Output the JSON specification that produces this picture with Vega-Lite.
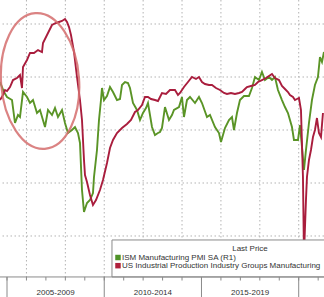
{
  "$schema": "https://vega.github.io/schema/vega-lite/v6.json",
  "width": 324,
  "height": 297,
  "padding": 0,
  "autosize": {"type": "none"},
  "background": "white",
  "config": {"view": {"stroke": null}, "font": "Liberation Sans"},
  "datasets": {
    "green": [
      {"t": 2004.640, "v": 58.79}, {"t": 2004.846, "v": 56.82}, {"t": 2005.000, "v": 55.83}, {"t": 2005.257, "v": 55.23},
      {"t": 2005.411, "v": 50.69}, {"t": 2005.565, "v": 52.27}, {"t": 2005.668, "v": 51.87}, {"t": 2005.823, "v": 56.82},
      {"t": 2006.028, "v": 55.83}, {"t": 2006.182, "v": 54.64}, {"t": 2006.337, "v": 55.23}, {"t": 2006.542, "v": 52.67},
      {"t": 2006.697, "v": 53.26}, {"t": 2006.954, "v": 49.90}, {"t": 2007.108, "v": 53.26}, {"t": 2007.314, "v": 52.27},
      {"t": 2007.468, "v": 53.65}, {"t": 2007.622, "v": 51.87}, {"t": 2007.828, "v": 53.26}, {"t": 2007.982, "v": 50.69},
      {"t": 2008.136, "v": 48.71}, {"t": 2008.342, "v": 49.31}, {"t": 2008.496, "v": 49.90}, {"t": 2008.650, "v": 48.71},
      {"t": 2008.753, "v": 46.74}, {"t": 2008.856, "v": 37.45}, {"t": 2008.959, "v": 33.10}, {"t": 2009.113, "v": 34.88},
      {"t": 2009.267, "v": 35.47}, {"t": 2009.421, "v": 36.85}, {"t": 2009.473, "v": 40.02}, {"t": 2009.627, "v": 45.35},
      {"t": 2009.730, "v": 51.28}, {"t": 2009.833, "v": 55.23}, {"t": 2009.884, "v": 57.61}, {"t": 2009.987, "v": 55.23},
      {"t": 2010.141, "v": 56.02}, {"t": 2010.296, "v": 57.80}, {"t": 2010.450, "v": 56.82}, {"t": 2010.655, "v": 55.23},
      {"t": 2010.810, "v": 55.43}, {"t": 2010.913, "v": 58.20}, {"t": 2011.067, "v": 58.79}, {"t": 2011.221, "v": 58.59},
      {"t": 2011.324, "v": 57.61}, {"t": 2011.478, "v": 54.64}, {"t": 2011.684, "v": 53.26}, {"t": 2011.838, "v": 51.28},
      {"t": 2011.992, "v": 52.67}, {"t": 2012.146, "v": 53.65}, {"t": 2012.249, "v": 54.64}, {"t": 2012.455, "v": 49.90},
      {"t": 2012.609, "v": 48.32}, {"t": 2012.763, "v": 48.71}, {"t": 2012.866, "v": 48.91}, {"t": 2012.969, "v": 49.70},
      {"t": 2013.123, "v": 53.85}, {"t": 2013.329, "v": 51.28}, {"t": 2013.483, "v": 52.27}, {"t": 2013.586, "v": 53.26},
      {"t": 2013.843, "v": 53.85}, {"t": 2013.997, "v": 55.83}, {"t": 2014.100, "v": 51.87}, {"t": 2014.254, "v": 55.23},
      {"t": 2014.409, "v": 55.83}, {"t": 2014.666, "v": 54.64}, {"t": 2014.871, "v": 55.83}, {"t": 2015.026, "v": 54.64},
      {"t": 2015.283, "v": 51.87}, {"t": 2015.437, "v": 52.27}, {"t": 2015.694, "v": 49.90}, {"t": 2015.900, "v": 48.71},
      {"t": 2016.003, "v": 46.93}, {"t": 2016.208, "v": 49.70}, {"t": 2016.414, "v": 51.28}, {"t": 2016.568, "v": 51.87},
      {"t": 2016.671, "v": 49.31}, {"t": 2016.825, "v": 52.67}, {"t": 2016.979, "v": 55.23}, {"t": 2017.185, "v": 56.02},
      {"t": 2017.442, "v": 56.02}, {"t": 2017.596, "v": 57.61}, {"t": 2017.751, "v": 59.78}, {"t": 2017.956, "v": 59.19},
      {"t": 2018.110, "v": 60.77}, {"t": 2018.265, "v": 59.19}, {"t": 2018.470, "v": 59.78}, {"t": 2018.625, "v": 59.19},
      {"t": 2018.779, "v": 59.78}, {"t": 2018.933, "v": 57.21}, {"t": 2019.139, "v": 55.23}, {"t": 2019.293, "v": 53.85},
      {"t": 2019.447, "v": 52.67}, {"t": 2019.653, "v": 49.90}, {"t": 2019.756, "v": 47.33}, {"t": 2019.962, "v": 47.33},
      {"t": 2020.064, "v": 50.29}, {"t": 2020.167, "v": 45.95}, {"t": 2020.270, "v": 41.40}, {"t": 2020.373, "v": 45.35},
      {"t": 2020.527, "v": 50.69}, {"t": 2020.681, "v": 55.23}, {"t": 2020.835, "v": 58.20}, {"t": 2020.989, "v": 59.78},
      {"t": 2021.092, "v": 63.73}, {"t": 2021.196, "v": 62.74}, {"t": 2021.298, "v": 64.72}
    ],
    "red": [
      {"t": 2004.640, "v": 95.66}, {"t": 2004.794, "v": 96.60}, {"t": 2004.897, "v": 97.55}, {"t": 2005.000, "v": 97.36},
      {"t": 2005.154, "v": 98.11}, {"t": 2005.308, "v": 99.43}, {"t": 2005.514, "v": 99.81}, {"t": 2005.668, "v": 100.38},
      {"t": 2005.771, "v": 97.92}, {"t": 2005.823, "v": 101.89}, {"t": 2006.028, "v": 103.21}, {"t": 2006.182, "v": 104.53},
      {"t": 2006.388, "v": 104.53}, {"t": 2006.594, "v": 105.09}, {"t": 2006.799, "v": 104.72}, {"t": 2006.851, "v": 106.42},
      {"t": 2007.108, "v": 108.30}, {"t": 2007.314, "v": 109.81}, {"t": 2007.519, "v": 110.19}, {"t": 2007.673, "v": 110.38},
      {"t": 2007.828, "v": 110.57}, {"t": 2007.982, "v": 110.94}, {"t": 2008.085, "v": 110.38}, {"t": 2008.188, "v": 109.43},
      {"t": 2008.290, "v": 107.92}, {"t": 2008.445, "v": 104.72}, {"t": 2008.599, "v": 100.00}, {"t": 2008.753, "v": 95.66},
      {"t": 2008.856, "v": 91.89}, {"t": 2008.959, "v": 84.34}, {"t": 2009.010, "v": 81.51}, {"t": 2009.113, "v": 80.19},
      {"t": 2009.267, "v": 77.74}, {"t": 2009.421, "v": 75.85}, {"t": 2009.576, "v": 76.79}, {"t": 2009.781, "v": 78.68},
      {"t": 2009.936, "v": 80.57}, {"t": 2010.141, "v": 83.77}, {"t": 2010.296, "v": 86.60}, {"t": 2010.450, "v": 88.11},
      {"t": 2010.655, "v": 89.43}, {"t": 2010.913, "v": 90.38}, {"t": 2011.170, "v": 91.13}, {"t": 2011.375, "v": 91.89},
      {"t": 2011.581, "v": 93.40}, {"t": 2011.735, "v": 93.77}, {"t": 2011.941, "v": 94.72}, {"t": 2012.095, "v": 96.23},
      {"t": 2012.249, "v": 96.23}, {"t": 2012.404, "v": 95.85}, {"t": 2012.609, "v": 95.66}, {"t": 2012.763, "v": 95.47},
      {"t": 2012.969, "v": 96.98}, {"t": 2013.175, "v": 96.79}, {"t": 2013.380, "v": 97.55}, {"t": 2013.637, "v": 97.55},
      {"t": 2013.792, "v": 96.60}, {"t": 2013.895, "v": 96.98}, {"t": 2014.100, "v": 98.11}, {"t": 2014.306, "v": 99.06},
      {"t": 2014.511, "v": 100.00}, {"t": 2014.717, "v": 99.62}, {"t": 2014.871, "v": 100.00}, {"t": 2015.026, "v": 99.06},
      {"t": 2015.180, "v": 98.68}, {"t": 2015.386, "v": 98.49}, {"t": 2015.540, "v": 98.49}, {"t": 2015.745, "v": 97.92},
      {"t": 2015.951, "v": 97.55}, {"t": 2016.157, "v": 96.98}, {"t": 2016.311, "v": 96.79}, {"t": 2016.517, "v": 96.98},
      {"t": 2016.722, "v": 96.79}, {"t": 2016.928, "v": 96.98}, {"t": 2017.082, "v": 97.17}, {"t": 2017.236, "v": 97.74},
      {"t": 2017.339, "v": 98.11}, {"t": 2017.545, "v": 98.30}, {"t": 2017.751, "v": 98.49}, {"t": 2017.905, "v": 99.06},
      {"t": 2018.110, "v": 99.43}, {"t": 2018.316, "v": 99.81}, {"t": 2018.470, "v": 100.19}, {"t": 2018.625, "v": 100.57},
      {"t": 2018.779, "v": 99.81}, {"t": 2018.985, "v": 99.43}, {"t": 2019.139, "v": 98.30}, {"t": 2019.293, "v": 97.74},
      {"t": 2019.447, "v": 97.17}, {"t": 2019.550, "v": 96.60}, {"t": 2019.704, "v": 96.23}, {"t": 2019.807, "v": 95.66},
      {"t": 2019.910, "v": 95.85}, {"t": 2020.013, "v": 96.04}, {"t": 2020.116, "v": 93.77}, {"t": 2020.218, "v": 81.13},
      {"t": 2020.270, "v": 66.42}, {"t": 2020.373, "v": 76.79}, {"t": 2020.424, "v": 81.13}, {"t": 2020.527, "v": 84.34},
      {"t": 2020.630, "v": 86.23}, {"t": 2020.733, "v": 88.68}, {"t": 2020.835, "v": 90.00}, {"t": 2020.938, "v": 92.26},
      {"t": 2021.041, "v": 89.43}, {"t": 2021.144, "v": 88.68}, {"t": 2021.247, "v": 93.21}
    ],
    "hgrid": [{"v": 110}, {"v": 100}, {"v": 90}, {"v": 80}, {"v": 70}],
    "vgrid": [{"t": 2006}, {"t": 2008}, {"t": 2010}, {"t": 2012}, {"t": 2014}, {"t": 2016}, {"t": 2018}, {"t": 2020}],
    "ticks": [{"t": 2005}, {"t": 2006}, {"t": 2007}, {"t": 2008}, {"t": 2009}, {"t": 2010}, {"t": 2011}, {"t": 2012}, {"t": 2013}, {"t": 2014}, {"t": 2015}, {"t": 2016}, {"t": 2017}, {"t": 2018}, {"t": 2019}, {"t": 2020}, {"t": 2021}],
    "seps": [{"t": 2005}, {"t": 2010}, {"t": 2015}, {"t": 2020}],
    "periods": [{"t": 2007.5, "label": "2005-2009"}, {"t": 2012.5, "label": "2010-2014"}, {"t": 2017.5, "label": "2015-2019"}],
    "legend": [
      {"series": "ISM", "label": "ISM Manufacturing PMI SA  (R1)"},
      {"series": "IP", "label": "US Industrial Production Industry Groups Manufacturing"}
    ],
    "annot": [{"t": 2006.70, "v": 99.25}]
  },
  "layer": [
    {
      "data": {"name": "hgrid"},
      "mark": {"type": "rule", "stroke": "#b3b3b3", "strokeWidth": 1, "strokeDash": [1.5, 2.5]},
      "encoding": {
        "y": {"field": "v", "type": "quantitative", "scale": {"domain": [58.49, 114.53], "nice": false, "zero": false}, "axis": null}
      }
    },
    {
      "data": {"name": "vgrid"},
      "mark": {"type": "rule", "stroke": "#b3b3b3", "strokeWidth": 1, "strokeDash": [1.5, 2.5]},
      "encoding": {
        "x": {"field": "t", "type": "quantitative", "scale": {"domain": [2004.64, 2021.3], "nice": false, "zero": false}, "axis": null},
        "y": {"datum": 114.53, "type": "quantitative", "scale": {"domain": [58.49, 114.53], "nice": false, "zero": false}, "axis": null},
        "y2": {"datum": 62.27}
      }
    },
    {
      "data": {"name": "green"},
      "mark": {"type": "line", "stroke": "#5a9426", "strokeWidth": 1.9, "clip": true},
      "encoding": {
        "x": {"field": "t", "type": "quantitative", "scale": {"domain": [2004.64, 2021.3], "nice": false, "zero": false}, "axis": null},
        "y": {"field": "v", "type": "quantitative", "scale": {"domain": [16.3, 75.0], "nice": false, "zero": false}, "axis": null}
      }
    },
    {
      "data": {"name": "red"},
      "mark": {"type": "line", "stroke": "#a91d3d", "strokeWidth": 1.9, "clip": true},
      "encoding": {
        "x": {"field": "t", "type": "quantitative", "scale": {"domain": [2004.64, 2021.3], "nice": false, "zero": false}, "axis": null},
        "y": {"field": "v", "type": "quantitative", "scale": {"domain": [58.49, 114.53], "nice": false, "zero": false}, "axis": null}
      }
    },
    {
      "data": {"name": "annot"},
      "mark": {
        "type": "point",
        "shape": "M0,-1C0.317,-1,0.574,-0.552,0.574,0C0.574,0.552,0.317,1,0,1C-0.317,1,-0.574,0.552,-0.574,0C-0.574,-0.552,-0.317,-1,0,-1Z",
        "size": 18496,
        "filled": false,
        "stroke": "#d56e6e",
        "strokeWidth": 2.2,
        "opacity": 0.85,
        "angle": 356
      },
      "encoding": {
        "x": {"field": "t", "type": "quantitative", "scale": {"domain": [2004.64, 2021.3], "nice": false, "zero": false}, "axis": null},
        "y": {"field": "v", "type": "quantitative", "scale": {"domain": [58.49, 114.53], "nice": false, "zero": false}, "axis": null}
      }
    },
    {
      "data": {"name": "legend"},
      "transform": [{"filter": "datum.series === 'ISM'"}],
      "mark": {"type": "rect", "fill": "white", "stroke": "#8a8a8a", "strokeWidth": 1},
      "encoding": {
        "x": {"datum": 2010.398, "type": "quantitative", "scale": {"domain": [2004.64, 2021.3], "nice": false, "zero": false}, "axis": null},
        "x2": {"datum": 2022.5},
        "y": {"datum": 69.25, "type": "quantitative", "scale": {"domain": [58.49, 114.53], "nice": false, "zero": false}, "axis": null},
        "y2": {"datum": 62.27}
      }
    },
    {
      "data": {"name": "legend"},
      "transform": [{"filter": "datum.series === 'ISM'"}],
      "mark": {"type": "text", "text": "Last Price", "fontSize": 8, "fill": "#333333", "align": "center", "baseline": "middle"},
      "encoding": {
        "x": {"datum": 2017.494, "type": "quantitative", "scale": {"domain": [2004.64, 2021.3], "nice": false, "zero": false}, "axis": null},
        "y": {"datum": 67.55, "type": "quantitative", "scale": {"domain": [58.49, 114.53], "nice": false, "zero": false}, "axis": null}
      }
    },
    {
      "data": {"name": "legend"},
      "transform": [{"filter": "datum.series === 'ISM'"}],
      "layer": [
        {
          "mark": {"type": "square", "size": 30, "filled": true, "fill": "#4f9228", "opacity": 1},
          "encoding": {
            "x": {"datum": 2010.707, "type": "quantitative", "scale": {"domain": [2004.64, 2021.3], "nice": false, "zero": false}, "axis": null},
            "y": {"datum": 65.94, "type": "quantitative", "scale": {"domain": [58.49, 114.53], "nice": false, "zero": false}, "axis": null}
          }
        },
        {
          "mark": {"type": "text", "fontSize": 8, "fill": "#333333", "align": "left", "baseline": "middle"},
          "encoding": {
            "x": {"datum": 2010.913, "type": "quantitative", "scale": {"domain": [2004.64, 2021.3], "nice": false, "zero": false}, "axis": null},
            "y": {"datum": 65.94, "type": "quantitative", "scale": {"domain": [58.49, 114.53], "nice": false, "zero": false}, "axis": null},
            "text": {"field": "label"}
          }
        }
      ]
    },
    {
      "data": {"name": "legend"},
      "transform": [{"filter": "datum.series === 'IP'"}],
      "layer": [
        {
          "mark": {"type": "square", "size": 30, "filled": true, "fill": "#b0213c", "opacity": 1},
          "encoding": {
            "x": {"datum": 2010.707, "type": "quantitative", "scale": {"domain": [2004.64, 2021.3], "nice": false, "zero": false}, "axis": null},
            "y": {"datum": 64.40, "type": "quantitative", "scale": {"domain": [58.49, 114.53], "nice": false, "zero": false}, "axis": null}
          }
        },
        {
          "mark": {"type": "text", "fontSize": 8, "fill": "#333333", "align": "left", "baseline": "middle"},
          "encoding": {
            "x": {"datum": 2010.913, "type": "quantitative", "scale": {"domain": [2004.64, 2021.3], "nice": false, "zero": false}, "axis": null},
            "y": {"datum": 64.40, "type": "quantitative", "scale": {"domain": [58.49, 114.53], "nice": false, "zero": false}, "axis": null},
            "text": {"field": "label"}
          }
        }
      ]
    },
    {
      "data": {"name": "seps"},
      "mark": {"type": "rule", "stroke": "#8a8a8a", "strokeWidth": 1},
      "encoding": {
        "y": {"datum": 62.27, "type": "quantitative", "scale": {"domain": [58.49, 114.53], "nice": false, "zero": false}, "axis": null}
      },
      "transform": [{"filter": "datum.t === 2005"}]
    },
    {
      "data": {"name": "ticks"},
      "mark": {"type": "rule", "stroke": "#8a8a8a", "strokeWidth": 1},
      "encoding": {
        "x": {"field": "t", "type": "quantitative", "scale": {"domain": [2004.64, 2021.3], "nice": false, "zero": false}, "axis": null},
        "y": {"datum": 62.27, "type": "quantitative", "scale": {"domain": [58.49, 114.53], "nice": false, "zero": false}, "axis": null},
        "y2": {"datum": 61.6}
      }
    },
    {
      "data": {"name": "seps"},
      "mark": {"type": "rule", "stroke": "#8a8a8a", "strokeWidth": 1},
      "encoding": {
        "x": {"field": "t", "type": "quantitative", "scale": {"domain": [2004.64, 2021.3], "nice": false, "zero": false}, "axis": null},
        "y": {"datum": 62.27, "type": "quantitative", "scale": {"domain": [58.49, 114.53], "nice": false, "zero": false}, "axis": null},
        "y2": {"datum": 58.3}
      }
    },
    {
      "data": {"name": "periods"},
      "mark": {"type": "text", "fontSize": 8, "fill": "#333333", "align": "center", "baseline": "middle"},
      "encoding": {
        "x": {"field": "t", "type": "quantitative", "scale": {"domain": [2004.64, 2021.3], "nice": false, "zero": false}, "axis": null},
        "y": {"datum": 59.25, "type": "quantitative", "scale": {"domain": [58.49, 114.53], "nice": false, "zero": false}, "axis": null},
        "text": {"field": "label"}
      }
    }
  ],
  "resolve": {"scale": {"y": "independent"}}
}
